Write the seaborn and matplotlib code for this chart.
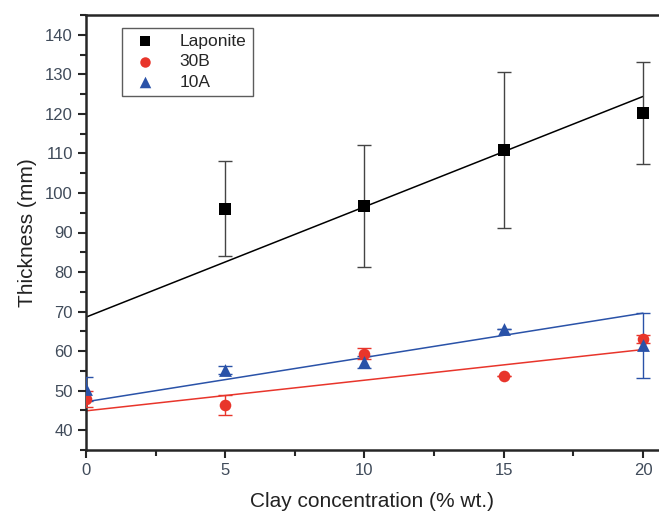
import numpy as np
import pandas as pd
import seaborn as sns
import matplotlib.pyplot as plt
from matplotlib.ticker import MultipleLocator

# measured points
lap_x = [5, 10, 15, 20]
lap_y = [96.0, 96.7, 110.8, 120.2]
lap_err = [12.0, 15.4, 19.7, 12.9]

b30_x = [0, 5, 10, 15, 20]
b30_y = [48.0, 46.3, 59.4, 53.6, 63.0]
b30_err = [2.0, 2.5, 1.5, 0.0, 1.0]

a10_x = [0, 5, 10, 15, 20]
a10_y = [50.5, 55.2, 57.3, 65.7, 61.5]
a10_err = [3.0, 1.0, 1.5, 0.0, 8.2]

# linear fits (value at x=0 and x=20)
fit_x = [0, 20]
lap_fit = [68.6, 124.4]
b30_fit = [44.9, 60.4]
a10_fit = [47.2, 69.6]

sns.set_style("ticks")
plt.rcParams['font.family'] = ['Liberation Sans', 'DejaVu Sans']

fig = plt.figure(figsize=(6.59, 5.15), dpi=100)
ax = fig.add_axes([86 / 659, 65 / 515, 573 / 659, 435 / 515])

series = [
    ("Laponite", lap_x, lap_y, lap_err, lap_fit, "black", "#444444", "s", 75),
    ("30B", b30_x, b30_y, b30_err, b30_fit, "#e8352b", "#e8352b", "o", 70),
    ("10A", a10_x, a10_y, a10_err, a10_fit, "#2a52a8", "#2a52a8", "^", 85),
]

for name, x, y, err, fit, col, ecol, mk, sz in series:
    sns.lineplot(x=fit_x, y=fit, color=col, lw=1.1, ax=ax)
    ax.errorbar(x, y, yerr=err, fmt="none", ecolor=ecol, elinewidth=1.0,
                capsize=5, capthick=1.0, zorder=3)
    sns.scatterplot(x=x, y=y, marker=mk, color=col, s=sz, edgecolor=col,
                    linewidth=0, label=name, ax=ax, zorder=4)

ax.set_xlim(0, 20.575)
ax.set_ylim(35, 145)
ax.xaxis.set_major_locator(MultipleLocator(5))
ax.xaxis.set_minor_locator(MultipleLocator(2.5))
ax.yaxis.set_major_locator(MultipleLocator(10))
ax.yaxis.set_minor_locator(MultipleLocator(5))
ax.set_yticks(np.arange(40, 141, 10))

for s in ["left", "bottom", "top"]:
    ax.spines[s].set_linewidth(1.8)
ax.spines["right"].set_visible(False)

ax.tick_params(which="major", direction="out", length=6, width=1.5,
               labelsize=12, labelcolor="#404b5a")
ax.tick_params(which="minor", direction="out", length=4, width=1.5)
ax.tick_params(top=False, right=False)

ax.set_xlabel("Clay concentration (% wt.)", fontsize=15, color="#222222", labelpad=10)
ax.set_ylabel("Thickness (mm)", fontsize=15, color="#222222", labelpad=6)

leg = ax.legend(loc="upper left", bbox_to_anchor=(0.056, 0.979), fontsize=12.5,
                frameon=True, fancybox=False, edgecolor="#333333",
                handletextpad=1.0, borderpad=0.35, labelspacing=0.3,
                markerscale=0.9, borderaxespad=0.2)
leg.get_frame().set_linewidth(1.0)

fig.savefig("out.png", dpi=100)
